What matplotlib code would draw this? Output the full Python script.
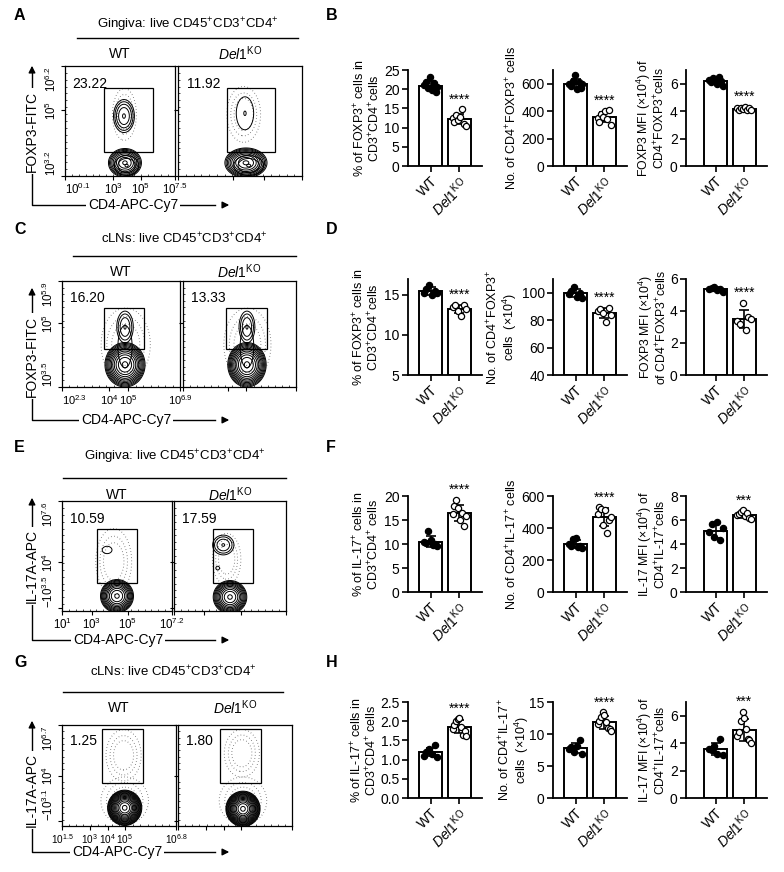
import numpy as np
import matplotlib
matplotlib.use("Agg")
import matplotlib.pyplot as plt
from matplotlib.patches import Rectangle
from matplotlib.ticker import MultipleLocator

plt.rcParams['font.family'] = ['Liberation Sans', 'DejaVu Sans']
plt.rcParams['mathtext.fontset'] = 'custom'
plt.rcParams['mathtext.rm'] = 'Liberation Sans'
plt.rcParams['mathtext.it'] = 'Liberation Sans:italic'
plt.rcParams['mathtext.bf'] = 'Liberation Sans:bold'

# ---------------- bar chart data ----------------
groups = ['WT', r'$\mathit{Del1}^{\mathrm{KO}}$']

# B: gingiva FOXP3
foxp3_ging_pct_wt = [21.0, 22.0, 20.2, 23.2, 19.8, 21.5, 19.3, 20.5]
foxp3_ging_pct_ko = [12.5, 11.5, 13.2, 12.0, 12.8, 14.8, 11.0, 10.5]
foxp3_ging_num_wt = [600, 580, 620, 660, 560, 610, 570, 600]
foxp3_ging_num_ko = [350, 320, 380, 360, 400, 340, 405, 300]
foxp3_ging_mfi_wt = [6.3, 6.1, 6.4, 6.2, 6.0, 6.5, 6.2, 5.8]
foxp3_ging_mfi_ko = [4.2, 4.1, 4.25, 4.15, 4.3, 4.05, 4.2, 4.1]

# D: cLN FOXP3
foxp3_cln_pct_wt = [15.3, 15.8, 16.2, 15.0, 15.5, 15.2]
foxp3_cln_pct_ko = [13.5, 13.8, 13.0, 12.4, 13.7, 13.2]
foxp3_cln_num_wt = [99, 101, 104, 97, 100, 96]
foxp3_cln_num_ko = [87, 88, 85, 79, 89, 84]
foxp3_cln_mfi_wt = [5.4, 5.45, 5.5, 5.3, 5.35, 5.2]
foxp3_cln_mfi_ko = [3.4, 3.2, 4.5, 2.8, 3.6, 3.5]

# F: gingiva IL-17
il17_ging_pct_wt = [10.5, 10.2, 12.8, 10.8, 9.8, 10.0, 9.5]
il17_ging_pct_ko = [16.2, 18.0, 19.2, 17.5, 15.0, 16.5, 13.8, 15.8]
il17_ging_num_wt = [300, 290, 330, 340, 280, 285, 275]
il17_ging_num_ko = [490, 530, 520, 420, 510, 370, 450, 470]
il17_ging_mfi_wt = [5.0, 5.7, 4.6, 5.8, 4.3, 5.3]
il17_ging_mfi_ko = [6.4, 6.5, 6.7, 6.8, 6.3, 6.6, 6.2, 6.1]

# H: cLN IL-17
il17_cln_pct_wt = [1.1, 1.2, 1.28, 1.15, 1.38, 1.08]
il17_cln_pct_ko = [1.8, 1.9, 2.0, 2.05, 2.08, 1.85, 1.65, 1.75, 1.62]
il17_cln_num_wt = [7.6, 7.9, 7.2, 8.2, 9.0, 6.8]
il17_cln_num_ko = [11.5, 12.0, 12.6, 13.4, 13.0, 11.8, 11.0, 10.8, 10.5]
il17_cln_mfi_wt = [3.6, 3.5, 3.8, 3.2, 4.3, 3.1]
il17_cln_mfi_ko = [4.5, 4.8, 5.6, 6.3, 5.8, 5.0, 4.3, 4.2, 4.0]

# ---------------- flow plot data (channel units 0-1000) ----------------
row_a_xticks = [0, 440, 690, 1000]
row_a_xlabels = ['$10^{0.1}$', '$10^{3}$', '$10^{5}$', '$10^{7.5}$']
row_a_yticks = [0, 600, 1000]
row_a_ylabels = ['$10^{3.2}$', '$10^{5}$', '$10^{6.2}$']
row_a_pct = ['23.22', '11.92']
row_a_gates = [(355, 800, 220, 800), (395, 780, 220, 800)]
# (centre x, centre y, radius x, radius y, contour count)
row_a_pops = [[(545, 120, 150, 130, 9), (560, 95, 110, 90, 3), (536, 545, 95, 150, 5)],
              [(548, 120, 170, 135, 10), (570, 95, 120, 90, 3), (540, 570, 70, 150, 2)]]
row_a_clouds = [[(540, 560, 120, 260)], [(530, 560, 150, 280)]]

row_c_xticks = [0, 400, 560, 1000]
row_c_xlabels = ['$10^{2.3}$', '$10^{4}$', '$10^{5}$', '$10^{6.9}$']
row_c_yticks = [0, 600, 1000]
row_c_ylabels = ['$10^{3.5}$', '$10^{5}$', '$10^{5.9}$']
row_c_pct = ['16.20', '13.33']
row_c_gates = [(356, 695, 358, 745), (380, 740, 358, 745)]
row_c_pops = [[(534, 210, 170, 210, 12), (534, 380, 60, 200, 2), (534, 566, 70, 150, 4)],
              [(566, 210, 170, 210, 12), (566, 380, 60, 200, 2), (566, 566, 70, 150, 4)]]
row_c_clouds = [[(540, 400, 230, 380)], [(570, 400, 230, 380)]]

row_e_xticks = [0, 270, 600, 1000]
row_e_xlabels = ['$10^{1}$', '$10^{3}$', '$10^{5}$', '$10^{7.2}$']
row_e_yticks = [30, 445, 1000]
row_e_ylabels = ['$-10^{3.5}$', '$10^{4}$', '$10^{7.6}$']
row_e_pct = ['10.59', '17.59']
row_e_gates = [(318, 680, 255, 745), (350, 705, 255, 745)]
row_e_pops = [[(500, 136, 150, 150, 11), (410, 555, 80, 60, 1)],
              [(500, 127, 150, 150, 11), (440, 600, 95, 90, 4), (390, 390, 30, 30, 1)]]
row_e_clouds = [[(470, 450, 180, 330)], [(470, 470, 140, 260)]]

row_g_xticks = [0, 245, 400, 550, 1000]
row_g_xlabels = ['$10^{1.5}$', '$10^{3}$', '$10^{4}$', '$10^{5}$', '$10^{6.8}$']
row_g_yticks = [50, 500, 1000]
row_g_ylabels = ['$-10^{3.1}$', '$10^{4}$', '$10^{6.7}$']
row_g_pct = ['1.25', '1.80']
row_g_gates = [(350, 710, 430, 960), (370, 730, 430, 960)]
row_g_pops = [[(550, 180, 150, 175, 16)], [(570, 170, 150, 175, 16)]]
row_g_clouds = [[(540, 700, 170, 280), (550, 250, 230, 260)],
                [(560, 720, 170, 260), (570, 250, 230, 260)]]

W, H = 784, 872
fig = plt.figure(figsize=(W / 100, H / 100), dpi=100)
bg = fig.add_axes([0, 0, 1, 1])
bg.set_xlim(0, W)
bg.set_ylim(H, 0)
bg.axis('off')


def box(x0, y0, x1, y1):
    return fig.add_axes([x0 / W, 1 - y1 / H, (x1 - x0) / W, (y1 - y0) / H])


gx, gy = np.meshgrid(np.linspace(0, 1000, 300), np.linspace(0, 1000, 300))


def blob(cx, cy, rx, ry):
    return np.exp(-0.5 * (((gx - cx) / (rx / 2.8)) ** 2 + ((gy - cy) / (ry / 2.8)) ** 2))


def flow_panel(ax, pops, clouds, gate, pct, ticks, first, tick_fs, x0_ha):
    for cx, cy, rx, ry in clouds:
        ax.contour(gx, gy, blob(cx, cy, rx, ry), levels=[0.04, 0.15, 0.35],
                   colors='0.25', linewidths=0.7, linestyles=[(0, (0.6, 2.6))])
    for cx, cy, rx, ry, n in pops:
        lv = np.geomspace(0.02, 0.93, n) if n > 1 else [0.3]
        ax.contour(gx, gy, blob(cx, cy, rx, ry), levels=lv, colors='k', linewidths=0.7)
    ax.add_patch(Rectangle((gate[0], gate[2]), gate[1] - gate[0], gate[3] - gate[2],
                           fill=False, ec='k', lw=0.9, zorder=5))
    ax.text(0.07, 0.84, pct, transform=ax.transAxes, fontsize=10, va='center')
    ax.set_xlim(0, 1000)
    ax.set_ylim(0, 1000)
    xt, xl, yt, yl = ticks
    ax.set_xticks(xt)
    ax.set_yticks(yt)
    ax.xaxis.set_minor_locator(MultipleLocator(62.5))
    ax.yaxis.set_minor_locator(MultipleLocator(62.5))
    if first:
        ax.set_xticklabels(xl, fontsize=tick_fs)
        ax.set_yticklabels(yl, fontsize=8.3, rotation=90, va='center')
        ax.get_xticklabels()[0].set_ha(x0_ha)
        ylabs = ax.get_yticklabels()
        ylabs[0].set_va('bottom')
        ylabs[-1].set_va('top')
    else:
        ax.set_xticklabels([])
        ax.set_yticklabels([])
    ax.tick_params(length=3, width=0.8, pad=1.5)
    ax.tick_params(which='minor', direction='in', length=1.5, width=0.5)
    for s in ax.spines.values():
        s.set_linewidth(0.9)


def bar_panel(ax, wt, ko, ylim, yticks, stars, xlim):
    base = ylim[0]
    tops = []
    for i, (vals, face) in enumerate([(wt, 'k'), (ko, 'white')]):
        vals = np.array(vals)
        m = vals.mean()
        sd = vals.std(ddof=1)
        ax.bar(i, m - base, bottom=base, width=0.8, color='white', edgecolor='k',
               linewidth=1.4, zorder=1)
        ax.errorbar(i, m, yerr=sd, color='k', capsize=3.5, lw=1.2, capthick=1.2, zorder=2)
        offs = np.linspace(-0.24, 0.24, len(vals))
        ax.scatter(i + offs, vals, s=20, facecolor=face, edgecolor='k', lw=0.9,
                   zorder=3, clip_on=False)
        tops.append(max(vals.max(), m + sd))
    ax.annotate(stars, xy=(1, tops[1]), xytext=(0, 2), textcoords='offset points',
                ha='center', va='bottom', fontsize=10, annotation_clip=False)
    ax.set_xlim(*xlim)
    ax.set_ylim(*ylim)
    ax.set_yticks(yticks)
    ax.set_xticks([0, 1])
    ax.set_xticklabels(groups, rotation=45, ha='right', rotation_mode='anchor', fontsize=10)
    ax.spines[['top', 'right']].set_visible(False)
    for s in ['left', 'bottom']:
        ax.spines[s].set_linewidth(1.3)
    ax.tick_params(length=4, width=1.2, labelsize=10, pad=2)


def fmt_ticks(ax, fmt):
    ax.set_yticklabels([fmt.format(v) for v in ax.get_yticks()])


# --------------- layout (pixel boxes) ---------------
flow_rows = [
    dict(letter='A', title='Gingiva: live CD45$^{+}$CD3$^{+}$CD4$^{+}$', ty=25, ly=38, lx=(77, 298), hy=54,
         p1=(65, 66, 175, 176), p2=(178, 66, 302, 176), ylab='FOXP3-FITC', ylc=131, atop=63, abot=205, xlc=133,
         pops=row_a_pops, clouds=row_a_clouds, gates=row_a_gates, pct=row_a_pct, fs=8.3, x0ha='left',
         ticks=(row_a_xticks, row_a_xlabels, row_a_yticks, row_a_ylabels)),
    dict(letter='C', title='cLNs: live CD45$^{+}$CD3$^{+}$CD4$^{+}$', ty=239, ly=256, lx=(73, 296), hy=272,
         p1=(62, 281, 180, 387), p2=(183, 281, 296, 387), ylab='FOXP3-FITC', ylc=356, atop=285, abot=420, xlc=126,
         pops=row_c_pops, clouds=row_c_clouds, gates=row_c_gates, pct=row_c_pct, fs=8.0, x0ha='left',
         ticks=(row_c_xticks, row_c_xlabels, row_c_yticks, row_c_ylabels)),
    dict(letter='E', title='Gingiva: live CD45$^{+}$CD3$^{+}$CD4$^{+}$', ty=457, ly=478, lx=(63, 286), hy=495,
         p1=(62, 501, 172, 611), p2=(174, 501, 286, 611), ylab='IL-17A-APC', ylc=566, atop=495, abot=640, xlc=118,
         pops=row_e_pops, clouds=row_e_clouds, gates=row_e_gates, pct=row_e_pct, fs=8.3, x0ha='center',
         ticks=(row_e_xticks, row_e_xlabels, row_e_yticks, row_e_ylabels)),
    dict(letter='G', title='cLNs: live CD45$^{+}$CD3$^{+}$CD4$^{+}$', ty=672, ly=692, lx=(63, 283), hy=708,
         p1=(62, 725, 176, 826), p2=(178, 725, 292, 826), ylab='IL-17A-APC', ylc=790, atop=718, abot=852, xlc=117,
         pops=row_g_pops, clouds=row_g_clouds, gates=row_g_gates, pct=row_g_pct, fs=7.2, x0ha='center',
         ticks=(row_g_xticks, row_g_xlabels, row_g_yticks, row_g_ylabels)),
]

for r in flow_rows:
    top_y = r['ty'] - 10
    bg.text(14, top_y, r['letter'], fontsize=11.5, fontweight='bold', va='center')
    bg.text(sum(r['lx']) / 2, r['ty'], r['title'], fontsize=9.5, ha='center', va='center')
    bg.plot(r['lx'], [r['ly'], r['ly']], color='k', lw=1.0)
    bg.text((r['p1'][0] + r['p1'][2]) / 2, r['hy'], groups[0], fontsize=10, ha='center', va='center')
    bg.text((r['p2'][0] + r['p2'][2]) / 2, r['hy'], groups[1], fontsize=10, ha='center', va='center')
    for k, p in enumerate([r['p1'], r['p2']]):
        ax = box(*p)
        flow_panel(ax, r['pops'][k], r['clouds'][k], r['gates'][k], r['pct'][k], r['ticks'],
                   k == 0, r['fs'], r['x0ha'])
    bg.plot([32, 32, 215], [r['atop'] + 8, r['abot'], r['abot']], color='k', lw=1.0)
    bg.annotate('', xy=(32, r['atop']), xytext=(32, r['atop'] + 10),
                arrowprops=dict(arrowstyle='-|>', color='k', lw=1.0, mutation_scale=10))
    bg.annotate('', xy=(232, r['abot']), xytext=(220, r['abot']),
                arrowprops=dict(arrowstyle='-|>', color='k', lw=1.0, mutation_scale=10))
    bg.text(32, r['ylc'], r['ylab'], rotation=90, fontsize=10, ha='center', va='center',
            bbox=dict(fc='white', ec='none', pad=1.5))
    bg.text(r['xlc'], r['abot'], 'CD4-APC-Cy7', fontsize=10, ha='center', va='center',
            bbox=dict(fc='white', ec='none', pad=1.5))

# bar rows
bar_rows = [
    dict(letter='B', ly=15, y=(70, 166), data=[
        (foxp3_ging_pct_wt, foxp3_ging_pct_ko, (0, 25), [0, 5, 10, 15, 20, 25], '****',
         '% of FOXP3$^{+}$ cells in\nCD3$^{+}$CD4$^{+}$cells', 367, '{:.0f}'),
        (foxp3_ging_num_wt, foxp3_ging_num_ko, (0, 700), [0, 200, 400, 600], '****',
         'No. of CD4$^{+}$FOXP3$^{+}$ cells', 512, '{:.0f}'),
        (foxp3_ging_mfi_wt, foxp3_ging_mfi_ko, (0, 7), [0, 2, 4, 6], '****',
         'FOXP3 MFI (×10$^{4}$) of\nCD4$^{+}$FOXP3$^{+}$cells', 651, '{:.0f}')]),
    dict(letter='D', ly=229, y=(279, 375), data=[
        (foxp3_cln_pct_wt, foxp3_cln_pct_ko, (5, 17), [5, 10, 15], '****',
         '% of FOXP3$^{+}$ cells in\nCD3$^{+}$CD4$^{+}$cells', 366, '{:.0f}'),
        (foxp3_cln_num_wt, foxp3_cln_num_ko, (40, 110), [40, 60, 80, 100], '****',
         'No. of CD4$^{+}$FOXP3$^{+}$\ncells  (×10$^{4}$)', 502, '{:.0f}'),
        (foxp3_cln_mfi_wt, foxp3_cln_mfi_ko, (0, 6), [0, 2, 4, 6], '****',
         'FOXP3 MFI (×10$^{4}$)\nof CD4$^{+}$FOXP3$^{+}$cells', 653, '{:.0f}')]),
    dict(letter='F', ly=447, y=(496, 592), data=[
        (il17_ging_pct_wt, il17_ging_pct_ko, (0, 20), [0, 5, 10, 15, 20], '****',
         '% of IL-17$^{+}$ cells in\nCD3$^{+}$CD4$^{+}$ cells', 366, '{:.0f}'),
        (il17_ging_num_wt, il17_ging_num_ko, (0, 600), [0, 200, 400, 600], '****',
         'No. of CD4$^{+}$IL-17$^{+}$ cells', 512, '{:.0f}'),
        (il17_ging_mfi_wt, il17_ging_mfi_ko, (0, 8), [0, 2, 4, 6, 8], '***',
         'IL-17 MFI (×10$^{4}$) of\nCD4$^{+}$IL-17$^{+}$cells', 652, '{:.0f}')]),
    dict(letter='H', ly=662, y=(702, 798), data=[
        (il17_cln_pct_wt, il17_cln_pct_ko, (0, 2.5), [0, 0.5, 1.0, 1.5, 2.0, 2.5], '****',
         '% of IL-17$^{+}$ cells in\nCD3$^{+}$CD4$^{+}$ cells', 364, '{:.1f}'),
        (il17_cln_num_wt, il17_cln_num_ko, (0, 15), [0, 5, 10, 15], '****',
         'No. of CD4$^{+}$IL-17$^{+}$\ncells  (×10$^{4}$)', 514, '{:.0f}'),
        (il17_cln_mfi_wt, il17_cln_mfi_ko, (0, 7), [0, 2, 4, 6], '***',
         'IL-17 MFI (×10$^{4}$) of\nCD4$^{+}$IL-17$^{+}$cells', 652, '{:.0f}')]),
]

bar_x = [(408, 482, (-0.78, 1.78)), (553, 627, (-0.78, 1.78)), (686, 767, (-1.05, 1.8))]

for r in bar_rows:
    bg.text(326, r['ly'], r['letter'], fontsize=11.5, fontweight='bold', va='center')
    y0, y1 = r['y']
    for j, ((x0, x1, xl), d) in enumerate(zip(bar_x, r['data'])):
        wt, ko, ylim, yt, stars, ylab, lxc, fmt = d
        ax = box(x0, y0, x1, y1)
        bar_panel(ax, wt, ko, ylim, yt, stars, xl)
        fmt_ticks(ax, fmt)
        bg.text(lxc, (y0 + y1) / 2, ylab, rotation=90, fontsize=8.8 if j == 2 else 9,
                ha='center', va='center', multialignment='center', linespacing=1.0)

fig.savefig('out.png', dpi=100)
